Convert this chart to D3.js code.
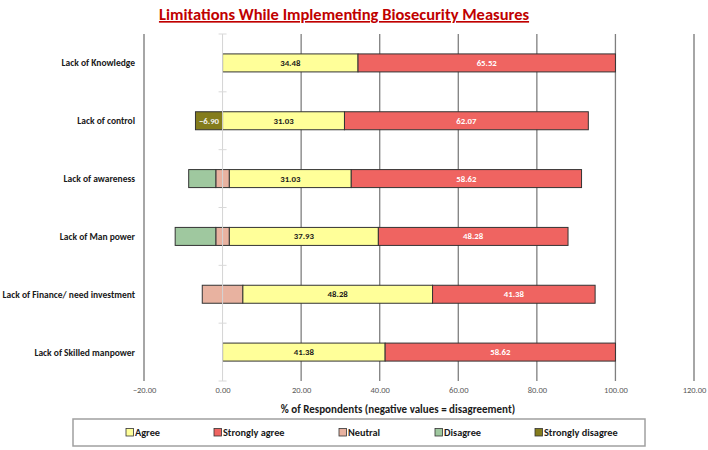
<!DOCTYPE html>
<html>
<head>
<meta charset="utf-8">
<script src="https://cdn.jsdelivr.net/npm/d3@7"></script>
<style>
  html, body { margin: 0; padding: 0; background: #fff; }
  svg { display: block; font-family: Carlito, Lato, "Open Sans", sans-serif; }
</style>
</head>
<body>
<svg id="chart" width="708" height="450"></svg>
<script>
const categories = ["Lack of Knowledge", "Lack of control", "Lack of awareness", "Lack of Man power", "Lack of Finance/ need investment", "Lack of Skilled manpower"];
const agree = [34.48, 31.03, 31.03, 37.93, 48.28, 41.38];
const stronglyAgree = [65.52, 62.07, 58.62, 48.28, 41.38, 58.62];
const neutral = [0, 0, 3.45, 3.45, 10.34, 0];
const disagree = [0, 0, 6.90, 10.34, 0, 0];
const stronglyDisagree = [0, 6.90, 0, 0, 0, 0];
const xTicks = [-20, 0, 20, 40, 60, 80, 100, 120];
const legendLabels = ["Agree", "Strongly agree", "Neutral", "Disagree", "Strongly disagree"];

const colors = {
  "Agree": "#ffff99",
  "Strongly agree": "#ef6461",
  "Neutral": "#e8b2a0",
  "Disagree": "#9fc89f",
  "Strongly disagree": "#847c1c"
};

const svg = d3.select("#chart");
const x = d3.scaleLinear().domain([-20, 120]).range([144, 694]);
const y = d3.scaleBand().domain(categories).range([34, 381]).padding(0);
const barH = 18;

// Title
svg.append("text")
  .attr("x", 344).attr("y", 20)
  .attr("text-anchor", "middle")
  .attr("font-size", 16.5).attr("font-weight", "bold")
  .attr("fill", "#c00000")
  .attr("text-decoration", "underline")
  .text("Limitations While Implementing Biosecurity Measures");

// Gridlines
const gridG = svg.append("g");
xTicks.filter(t => t !== 0).forEach(t => {
  const edge = (t === -20 || t === 120);
  gridG.append("line")
    .attr("x1", x(t)).attr("x2", x(t))
    .attr("y1", 34).attr("y2", 381)
    .attr("stroke", edge ? "#a6a6a6" : "#7f7f7f")
    .attr("stroke-width", edge ? 2 : 1.3);
});

// Build segments
const segs = [];
categories.forEach((c, i) => {
  const nh = neutral[i] / 2;
  if (neutral[i] > 0) segs.push({c, s: "Neutral", x0: -nh, x1: nh, v: neutral[i]});
  let neg = -nh;
  if (disagree[i] > 0) { segs.push({c, s: "Disagree", x0: neg - disagree[i], x1: neg, v: disagree[i]}); neg -= disagree[i]; }
  if (stronglyDisagree[i] > 0) { segs.push({c, s: "Strongly disagree", x0: neg - stronglyDisagree[i], x1: neg, v: -stronglyDisagree[i], label: true, lc: "#f2f2f2"}); neg -= stronglyDisagree[i]; }
  let pos = nh;
  segs.push({c, s: "Agree", x0: pos, x1: pos + agree[i], v: agree[i], label: true, lc: "#1a1a1a"}); pos += agree[i];
  segs.push({c, s: "Strongly agree", x0: pos, x1: pos + stronglyAgree[i], v: stronglyAgree[i], label: true, lc: "#ffffff"});
});

const barsG = svg.append("g");
barsG.selectAll("rect").data(segs).join("rect")
  .attr("x", d => x(d.x0))
  .attr("y", d => y(d.c) + y.bandwidth() / 2 - barH / 2)
  .attr("width", d => x(d.x1) - x(d.x0))
  .attr("height", barH)
  .attr("fill", d => colors[d.s])
  .attr("stroke", "#333")
  .attr("stroke-width", 1);

barsG.selectAll("text").data(segs.filter(d => d.label)).join("text")
  .attr("x", d => (x(d.x0) + x(d.x1)) / 2)
  .attr("y", d => y(d.c) + y.bandwidth() / 2 + 3)
  .attr("text-anchor", "middle")
  .attr("font-size", 8.8).attr("font-weight", "bold")
  .attr("fill", d => d.lc)
  .text(d => d3.format(".2f")(d.v));

// Zero axis line (light) on top
svg.append("line")
  .attr("x1", x(0)).attr("x2", x(0))
  .attr("y1", 34).attr("y2", 381)
  .attr("stroke", "#d4d4d4").attr("stroke-width", 1);
// small ticks on zero axis at band boundaries
const bounds = categories.map(c => y(c)).concat([381]);
svg.append("g").selectAll("line").data(bounds).join("line")
  .attr("x1", x(0) - 4).attr("x2", x(0) + 4)
  .attr("y1", d => d).attr("y2", d => d)
  .attr("stroke", "#d9d9d9").attr("stroke-width", 1);

// Category labels
svg.append("g").selectAll("text").data(categories).join("text")
  .attr("x", 135)
  .attr("y", c => y(c) + y.bandwidth() / 2 + 3.5)
  .attr("text-anchor", "end")
  .attr("font-size", 9.5).attr("font-weight", "bold")
  .attr("fill", "#1a1a1a")
  .text(c => c);

// X axis tick labels
const xAxis = d3.axisBottom(x).tickValues(xTicks).tickFormat(d3.format(".2f")).tickSize(0).tickPadding(0);
const axG = svg.append("g").attr("transform", "translate(0,387)").call(xAxis);
axG.select(".domain").remove();
axG.selectAll("text").attr("font-size", 8.5).attr("fill", "#595959").attr("font-family", "Carlito, Lato, sans-serif");

// Axis title
svg.append("text")
  .attr("x", 398).attr("y", 413)
  .attr("text-anchor", "middle")
  .attr("font-size", 11).attr("font-weight", "bold")
  .attr("fill", "#1a1a1a")
  .text("% of Respondents (negative values = disagreement)");

// Legend
svg.append("rect")
  .attr("x", 73).attr("y", 419).attr("width", 572).attr("height", 27)
  .attr("fill", "#fff").attr("stroke", "#a0a0a0").attr("stroke-width", 1.5);
const legX = [126, 214, 339, 435, 535];
const lg = svg.append("g").selectAll("g").data(legendLabels).join("g")
  .attr("transform", (d, i) => `translate(${legX[i]},428.5)`);
lg.append("rect").attr("width", 7.5).attr("height", 7.5)
  .attr("fill", d => colors[d]).attr("stroke", "#333").attr("stroke-width", 0.8);
lg.append("text").attr("x", 9).attr("y", 7.5)
  .attr("font-size", 10.3).attr("font-weight", "bold").attr("fill", "#1a1a1a")
  .text(d => d);
</script>
</body>
</html>
